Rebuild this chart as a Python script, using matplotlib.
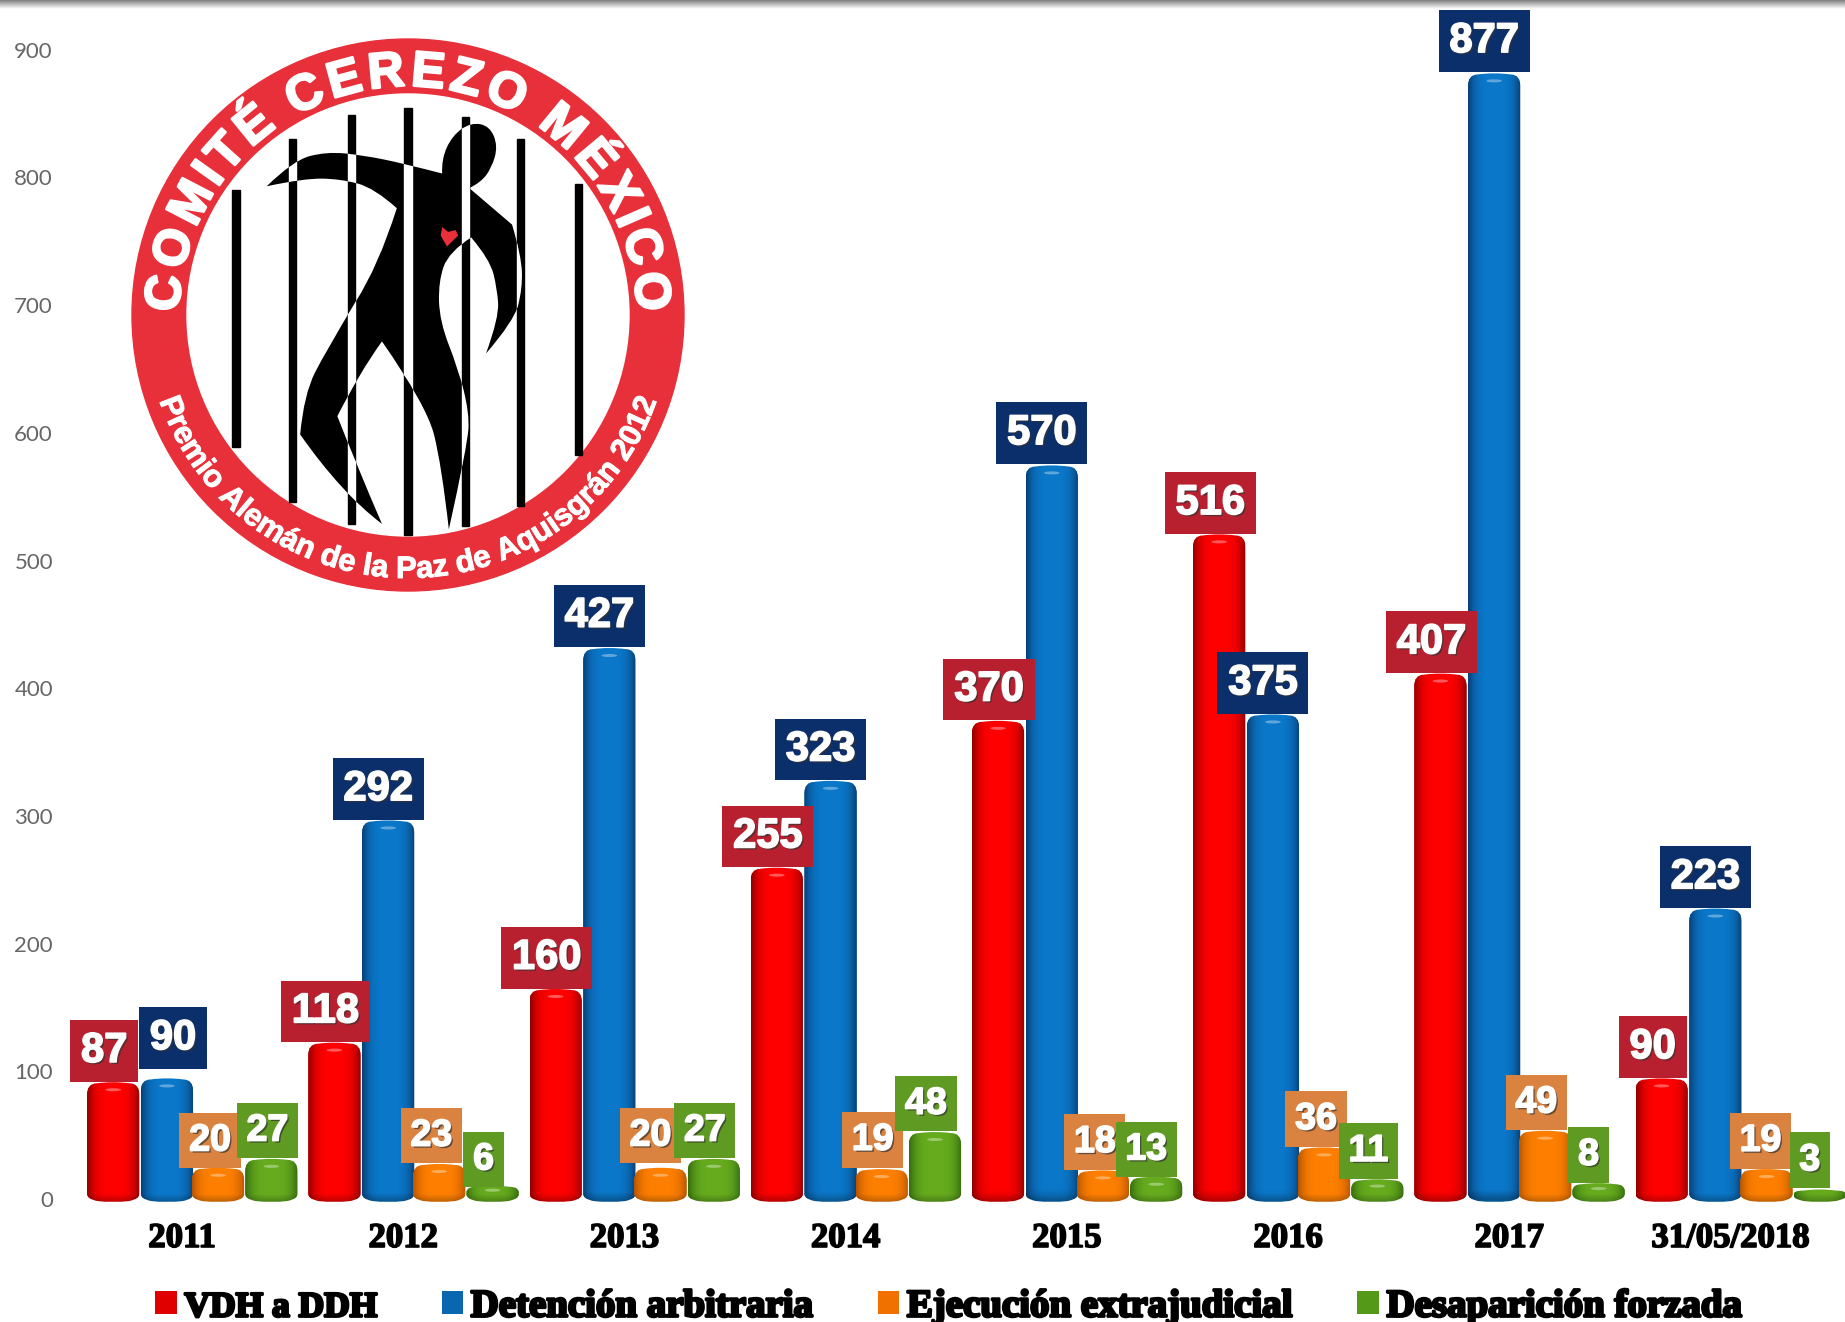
import numpy as np
import matplotlib
matplotlib.use("Agg")
import matplotlib.pyplot as plt
import matplotlib.patheffects as pe
from matplotlib.font_manager import FontProperties, findfont, get_font
from matplotlib.patches import Circle, Ellipse, PathPatch, Rectangle
from matplotlib.path import Path
from matplotlib.transforms import Affine2D

# Data
years = ["2011", "2012", "2013", "2014", "2015", "2016", "2017", "31/05/2018"]
vdh = [87, 118, 160, 255, 370, 516, 407, 90]
detencion = [90, 292, 427, 323, 570, 375, 877, 223]
ejecucion = [20, 23, 20, 19, 18, 36, 49, 19]
desaparicion = [27, 6, 27, 48, 13, 11, 8, 3]
series_names = ["VDH a DDH", "Detención arbitraria", "Ejecución extrajudicial", "Desaparición forzada"]
yticks = list(range(0, 1000, 100))

# Style of each series: offset in group, edge/centre shade, label box colour
offsets = [-0.311, -0.068, 0.163, 0.404]
edge_cols = ["#8f0000", "#083f75", "#b85500", "#356c0e"]
mid_cols = ["#ff0000", "#0b78ca", "#ff8000", "#66ac1e"]
base_cols = ["#e00000", "#0b66b0", "#f07000", "#549a18"]
box_cols = ["#b9202f", "#0b2f6b", "#da8240", "#5f9a22"]
label_size = [30, 30, 27, 27]
# label box centre relative to the bar top, in pixels
label_dx = [[-9] * 8,
            [6, -10, -10, -10, -10, -10, -10, -10],
            [-8, -8, -10, -9, -8, -8, -9, -6],
            [-4, -9, -9, -9, -10, -9, -10, -10]]
label_dy = [[37] * 8,
            [46, 37, 38, 37, 38, 37, 38, 37],
            [33, 34, 38, 35, 34, 34, 34, 34],
            [34, 32, 34, 34, 33, 34, 34, 35]]
bar_width = 0.236
dome = 4.6

W, H = 1845, 1322
fig = plt.figure(figsize=(W / 100, H / 100), dpi=100, facecolor="white")

# Background layer in pixel coords: top shadow band and logo
bg = fig.add_axes([0, 0, 1, 1], zorder=0)
bg.set_xlim(0, W)
bg.set_ylim(H, 0)
bg.set_autoscale_on(False)
bg.axis("off")
band = np.linspace(0.5, 1.0, 24).reshape(-1, 1)
bg.imshow(band, extent=(0, W, 9, 0), cmap="gray", vmin=0, vmax=1, aspect="auto")

cx, cy = 408, 315
bg.add_patch(Circle((cx, cy), 276, color="#e8303a"))
bg.add_patch(Circle((cx, cy), 221, color="white"))


def arc_text(text, r, start, end, size_px, top, stroke):
    fp = FontProperties(family="Liberation Sans", weight="bold")
    font = get_font(findfont(fp))
    font.set_size(100, 72)
    adv = np.array([font.load_char(ord(c)).linearHoriAdvance / 65536 for c in text])
    pos = (np.cumsum(adv) - adv / 2) / adv.sum()
    for c, p in zip(text, pos):
        ang = start + (end - start) * p
        rad = np.radians(ang)
        bg.text(cx + r * np.cos(rad), cy - r * np.sin(rad), c, color="white",
                family="Liberation Sans", weight="bold", fontsize=size_px * 0.72,
                rotation=(ang - 90) if top else (ang + 90), rotation_mode="anchor",
                ha="center", va="baseline",
                path_effects=[pe.withStroke(linewidth=stroke, foreground="white")])


arc_text("COMITÉ CEREZO MÉXICO", 229, 180, 0, 50, True, 1.8)
arc_text("Premio Alemán de la Paz de Aquisgrán 2012", 263, 199, 341, 31, False, 0.7)


def smooth(strokes):
    # each stroke runs corner to corner, inner points get rounded
    verts, codes = [], []
    for i, s in enumerate(strokes):
        if i == 0:
            verts.append(s[0])
            codes.append(Path.MOVETO)
        for j in range(1, len(s) - 1):
            end = s[j + 1] if j == len(s) - 2 else ((s[j][0] + s[j + 1][0]) / 2, (s[j][1] + s[j + 1][1]) / 2)
            verts += [s[j], end]
            codes += [Path.CURVE3, Path.CURVE3]
        if len(s) == 2:
            verts.append(s[1])
            codes.append(Path.LINETO)
    verts.append(verts[0])
    codes.append(Path.CLOSEPOLY)
    return Path(verts, codes)


logo_tr = Affine2D().scale(1 / 2.69, 1 / 2.74).translate(118, 33) + bg.transData
prison_bars = [(318, 430, 1135), (470, 290, 1285), (628, 225, 1345), (780, 205, 1375),
               (935, 230, 1350), (1082, 290, 1295), (1238, 415, 1155)]
for u, v0, v1 in prison_bars:
    bg.add_patch(Rectangle((u - 10, v0), 20, v1 - v0, color="black", transform=logo_tr))

body = smooth([
    [(400, 420), (470, 350), (560, 325), (660, 335), (770, 358), (872, 385)],
    [(872, 385), (870, 345), (900, 280), (950, 245), (1000, 255), (1022, 310), (1005, 370), (975, 410), (945, 425)],
    [(945, 425), (1060, 525)],
    [(1060, 525), (1085, 610), (1088, 700), (1065, 790), (990, 878)],
    [(990, 878), (1025, 780), (1020, 700), (1000, 620), (950, 560)],
    [(950, 560), (890, 600), (862, 680), (865, 790), (915, 920), (945, 1040), (940, 1130), (890, 1360)],
    [(890, 1360), (870, 1180), (830, 1020), (710, 845)],
    [(710, 845), (650, 930), (590, 1050)],
    [(590, 1050), (640, 1180), (710, 1345)],
    [(710, 1345), (600, 1260), (490, 1100)],
    [(490, 1100), (500, 990), (560, 870), (640, 735)],
    [(640, 735), (700, 640), (750, 480)],
    [(750, 480), (690, 425), (600, 400), (500, 398), (400, 420)],
])
body_patch = PathPatch(body, facecolor="black", edgecolor="none", transform=logo_tr)
bg.add_patch(body_patch)
for u, v0, v1 in prison_bars[1:6]:
    r = Rectangle((u - 10, v0), 20, v1 - v0, color="white", transform=logo_tr)
    bg.add_patch(r)
    r.set_clip_path(body_patch)
heart = Path([(885, 585), (868, 555), (872, 532), (888, 545), (908, 540), (915, 555)], closed=False)
bg.add_patch(PathPatch(heart, facecolor="#e8303a", edgecolor="none", transform=logo_tr))

# Main chart axes, value 0 at pixel 1199, 100 units = 127.7 px
left_px = 62
ax = fig.add_axes([left_px / W, (H - 1206.7) / H, 1 - left_px / W, 1206.7 / H], zorder=1)
ax.patch.set_alpha(0)
ax.set_xlim((left_px - 182) / 221.2, (W - 182) / 221.2)
ax.set_ylim(-6, 1199 / 1.277)
ax.set_autoscale_on(False)
for s in ax.spines.values():
    s.set_visible(False)


def to_rgb(c):
    return np.array(matplotlib.colors.to_rgb(c))


def shade(edge, mid, bottom, top):
    # cylinder shading: dark edges, bright centre, darker foot
    t = np.linspace(-1, 1, 64)
    prof = np.clip(1 - np.abs(t) ** 3.5, 0, 1)
    row = to_rgb(edge)[None, :] * (1 - prof[:, None]) + to_rgb(mid)[None, :] * prof[:, None]
    ys = np.linspace(top, bottom, 128)
    foot = 0.72 + 0.28 * np.clip((ys - bottom) / 7.0, 0, 1)
    return row[None, :, :] * foot[:, None, None]


all_series = [vdh, detencion, ejecucion, desaparicion]
x = np.arange(len(years))
for k, vals in enumerate(all_series):
    bars = ax.bar(x + offsets[k], vals, bar_width, color=base_cols[k], label=series_names[k], zorder=3 + k)
    for i, r in enumerate(bars):
        l, w, val = r.get_x(), r.get_width(), r.get_height()
        top = val + dome
        rr, mid = l + w, l + w / 2
        c = min(10, top * 0.5)
        rb = min(4, top * 0.35)
        foot = -3
        outline = Path(
            [(l, top - c), (l, top - 1), (mid - 0.32 * w, top - 1), (mid, top + 0.8), (mid + 0.32 * w, top - 1),
             (rr, top - 1), (rr, top - c), (rr, rb), (rr, 0), (mid + 0.3 * w, -1.6), (mid, foot),
             (mid - 0.3 * w, -1.6), (l, 0), (l, rb), (l, top - c)],
            [Path.MOVETO, Path.CURVE3, Path.CURVE3, Path.CURVE3, Path.CURVE3, Path.CURVE3, Path.CURVE3,
             Path.LINETO, Path.CURVE3, Path.CURVE3, Path.CURVE3, Path.CURVE3, Path.CURVE3, Path.LINETO,
             Path.CLOSEPOLY])
        clip = PathPatch(outline, facecolor="none", edgecolor="none", zorder=3 + k)
        ax.add_patch(clip)
        r.set_clip_path(clip)
        im = ax.imshow(shade(edge_cols[k], mid_cols[k], foot, top + 2), extent=(l, rr, foot, top + 2),
                       aspect="auto", interpolation="bilinear", zorder=3 + k)
        im.set_clip_path(clip)
        if val > 5:
            ax.add_patch(Ellipse((mid, top - min(6, top * 0.35)), w * 0.3, 2.4, facecolor="white",
                                 edgecolor="none", alpha=0.35, zorder=3 + k))
        ax.annotate(str(vals[i]), xy=(mid, val), xytext=(label_dx[k][i], label_dy[k][i]),
                    textcoords="offset pixels", ha="center", va="center", color="white",
                    family="Liberation Sans", weight="bold", fontsize=label_size[k], zorder=20 + k,
                    bbox=dict(boxstyle="square,pad=0.26", facecolor=box_cols[k], edgecolor="none"),
                    path_effects=[pe.withSimplePatchShadow(offset=(1.5, -1.5), shadow_rgbFace="#333333", alpha=0.7),
                                  pe.withStroke(linewidth=1.2, foreground="white")])

ax.set_yticks(yticks)
ax.set_yticklabels([str(v) for v in yticks], family="Lato", fontsize=16, color="#666666")
ax.set_xticks(x)
ax.set_xticklabels(years, family="Liberation Serif", weight="bold", fontsize=25, color="black",
                   path_effects=[pe.withStroke(linewidth=1.2, foreground="black")])
ax.tick_params(axis="y", length=0, pad=6.5)
ax.tick_params(axis="x", length=0, pad=11)

leg = ax.legend(loc="center", bbox_to_anchor=(949 / W, 1 - 1307 / H), bbox_transform=fig.transFigure,
                ncol=4, frameon=False, prop=FontProperties(family="Liberation Serif", weight="bold", size=28),
                handlelength=0.55, handleheight=0.55, handletextpad=0.2, columnspacing=1.65,
                borderpad=0, borderaxespad=0)
for t in leg.get_texts():
    t.set_path_effects([pe.withStroke(linewidth=2, foreground="black")])
leg.get_texts()[0].set_fontsize(25.5)

fig.savefig("out.png", dpi=100)
